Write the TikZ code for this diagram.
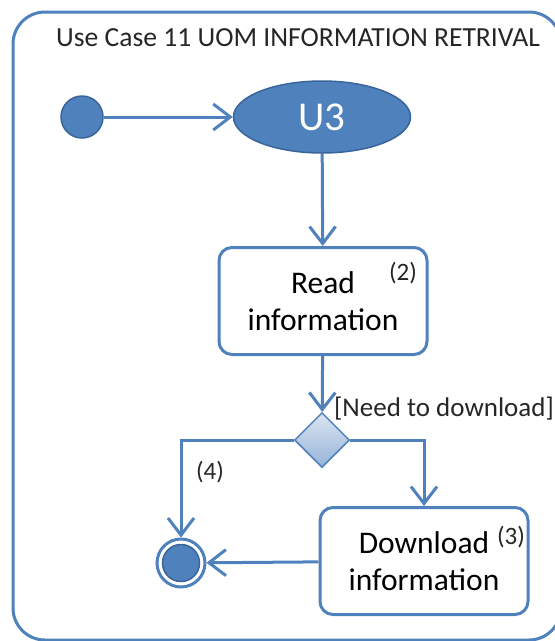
\documentclass[tikz,border=0pt]{standalone}
\usepackage{fontspec}
\setmainfont{Carlito}
\definecolor{ucblue}{HTML}{4F81BD}
\definecolor{ucdark}{HTML}{3A659A}
\definecolor{uclight}{HTML}{DCE6F2}
\definecolor{ucmid}{HTML}{95B3D7}
\usetikzlibrary{shapes.geometric, arrows.meta, positioning, calc}
\tikzstyle{arrow} = [-{Straight Barb[length=17pt, width=26pt]}, line width=3pt, color=ucblue]

\begin{document}
\begin{tikzpicture}[x=1pt, y=-1pt, every node/.style={align=center, inner sep=0pt},
    actbox/.style={rectangle, rounded corners=13pt, minimum width=208pt, minimum height=107pt,
      draw=ucblue, line width=3pt, fill=white, font=\fontsize{31.5}{37}\selectfont},
    note/.style={font=\fontsize{25}{28}\selectfont, text=black!85}
  ]
    \useasboundingbox (0,0) rectangle (555,641);
    \clip (0,0) rectangle (555,641);
    % frame of the use case
    \draw[ucblue, line width=3pt, rounded corners=32pt] (13,12) rectangle (561,640);
    \node[anchor=west, font=\fontsize{27.6}{30}\selectfont, text=black!85] (title) at (56,38)
      {Use Case 11 UOM INFORMATION RETRIVAL};

    \node[circle, minimum size=42pt, fill=ucblue, draw=ucdark, line width=1.5pt] (start) at (82,117) {};
    \node[ellipse, minimum width=177pt, minimum height=72pt, fill=ucblue, draw=ucdark, line width=1.5pt,
      text=white, font=\fontsize{41}{44}\selectfont] (u3) at (322,117) {U3};
    \node[actbox] (read) at (323,301) {Read\\information};
    \node[note] (n2) at (403,273) {(2)};
    \node[diamond, minimum width=55pt, minimum height=55pt, draw=ucblue, line width=1.5pt,
      top color=uclight, bottom color=ucmid] (dec) at (322,440) {};
    \node[note, anchor=west, font=\fontsize{27}{28}\selectfont] (guard) at (334,409) {[Need to download]};
    \node[actbox] (down) at (424,561) {Download\\information};
    \node[note] (n3) at (511,537) {(3)};
    \node[note] (n4) at (210,472) {(4)};
    \node[circle, minimum size=48pt, draw=ucblue, line width=3pt, fill=white] (final) at (181,563) {};
    \node[circle, minimum size=37pt, fill=ucblue, draw=ucdark, line width=1.5pt] (finalin) at (final) {};

    \draw[arrow] (start) -- (u3);
    \draw[arrow] (u3) -- (read);
    \draw[arrow] (read) -- (dec);
    \draw[arrow] (dec.west) -| (final);
    \draw[arrow] (dec.east) -| (down);
    \draw[arrow] (down) -- (final);
  \end{tikzpicture}
\end{document}
